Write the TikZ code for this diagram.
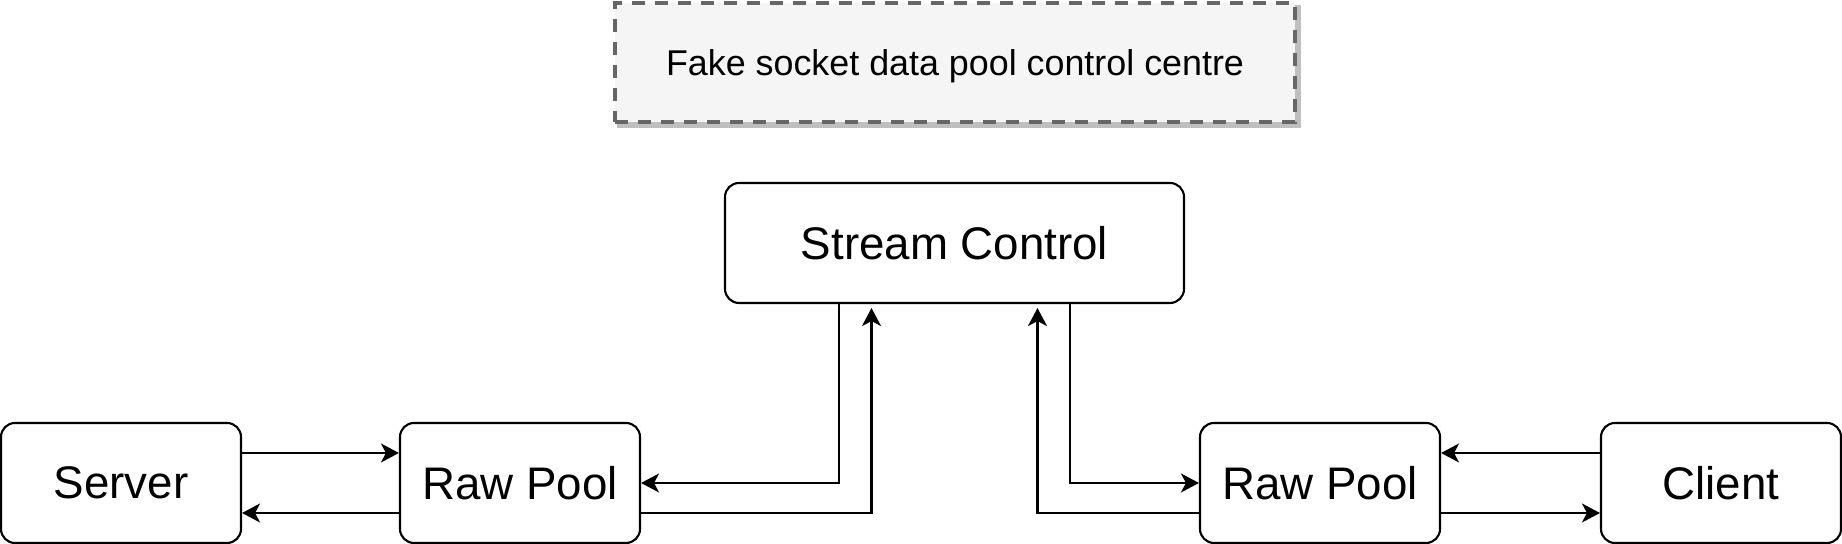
\documentclass[tikz,border=0pt]{standalone}
\usepackage{fontspec}
\setmainfont{Liberation Sans}
\usetikzlibrary{arrows.meta,calc,shadows}

\tikzset{
	block/.style={draw, line width=0.6pt, rounded corners=0.14cm, minimum width=2.4cm, minimum height=1.2cm, inner sep=0pt, font=\fontsize{13}{15}\selectfont},
	link/.style={line width=0.6pt, -{Stealth[length=0.18cm,width=0.19cm,inset=0.05cm]}},
	uplink/.style={link, shorten >=0.04cm},
	panel/.style={draw=black!60, fill=black!4, line width=0.95pt, dash pattern=on 0.13cm off 0.10cm, minimum width=6.8cm, minimum height=1.19cm, inner sep=0pt, text depth=0pt, font=\fontsize{10.2}{12}\selectfont, drop shadow={shadow xshift=0.04cm, shadow yshift=-0.04cm, fill=black!25, draw=black!25, solid, opacity=1}}
}

\begin{document}
\begin{tikzpicture}
			%%%%% START %%%%%
			\useasboundingbox (0, 0) rectangle (18.42, 5.44);
			
			\node[panel] (centre) at (9.55, 4.815) {Fake socket data pool control centre};
			
			\node[block, minimum width=4.59cm] (stream) at (9.545, 3.01) {Stream Control};
			
			\node[block] (server) at (1.21, 0.61) {Server};
			\node[block] (rawL) at (5.20, 0.61) {Raw Pool};
			\node[block] (rawR) at (13.20, 0.61) {Raw Pool};
			\node[block] (client) at (17.21, 0.61) {Client};
			
			% server side
			\draw[link] ([yshift=0.3cm]server.east) -- ([yshift=0.3cm]rawL.west);
			\draw[link] ([yshift=-0.3cm]rawL.west) -- ([yshift=-0.3cm]server.east);
			\draw[link] ($(stream.south west)!0.25!(stream.south east)$) |- (rawL.east);
			\draw[uplink] ([yshift=-0.3cm]rawL.east) -| ($(stream.south west)!0.32!(stream.south east)$);
			
			% client side
			\draw[uplink] ([yshift=-0.3cm]rawR.west) -| ($(stream.south west)!0.68!(stream.south east)$);
			\draw[link] ($(stream.south west)!0.75!(stream.south east)$) |- (rawR.west);
			\draw[link] ([yshift=0.3cm]client.west) -- ([yshift=0.3cm]rawR.east);
			\draw[link] ([yshift=-0.3cm]rawR.east) -- ([yshift=-0.3cm]client.west);
			
			%%%%% END %%%%%
		\end{tikzpicture}
\end{document}
